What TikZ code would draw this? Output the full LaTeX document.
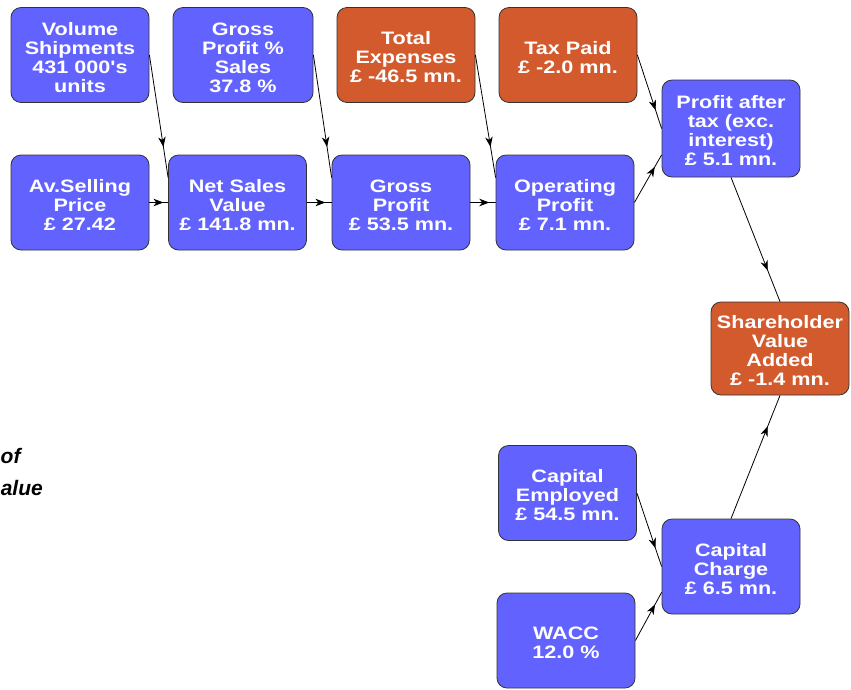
\documentclass[tikz,border=0pt]{standalone}
\usepackage{fontspec}
\newfontfamily\boxfont{Liberation Sans}[FakeStretch=1.2]
\newfontfamily\titlefont{Liberation Sans}
\usetikzlibrary{arrows.meta,decorations.markings,calc}
\definecolor{boxblue}{RGB}{98,98,255}
\definecolor{boxorange}{RGB}{210,90,45}
\newcommand\tstrut{\rule{0pt}{17.5pt}}
\tikzset{
  box/.style={draw=black!80, line width=0.8pt, rounded corners=10pt,
    minimum width=138pt, minimum height=95pt, inner sep=0pt, align=center,
    text=white, font=\boxfont\bfseries\fontsize{18}{19}\selectfont},
  bluebox/.style={box, fill=boxblue},
  orangebox/.style={box, fill=boxorange},
  midconn/.style={line width=0.8pt, postaction={decorate},
    decoration={markings, mark=at position 0.75 with {\arrow{Stealth[length=10pt,width=7.5pt,inset=3pt]}}}},
  sidetext/.style={inner sep=0pt, font=\titlefont\bfseries\itshape\fontsize{21}{32}\selectfont}
}
\begin{document}
\begin{tikzpicture}[x=1pt,y=-1pt]
\useasboundingbox (0,0) rectangle (851,689);
% top row
\node[bluebox] (vs) at (80,55) {\tstrut Volume\\Shipments\\431 000's\\units};
\node[bluebox, minimum width=140pt] (gps) at (243,55) {\tstrut Gross\\Profit \%\\Sales\\37.8 \%};
\node[orangebox] (te) at (406,55) {\tstrut Total\\Expenses\\\pounds{} -46.5 mn.};
\node[orangebox] (tp) at (568,55) {\tstrut Tax Paid\\\pounds{} -2.0 mn.};
% second row
\node[bluebox] (asp) at (80,202.5) {\tstrut Av.Selling\\Price\\\pounds{} 27.42};
\node[bluebox] (nsv) at (237.5,202.5) {\tstrut Net Sales\\Value\\\pounds{} 141.8 mn.};
\node[bluebox] (gp) at (401,202.5) {\tstrut Gross\\Profit\\\pounds{} 53.5 mn.};
\node[bluebox] (op) at (565,202.5) {\tstrut Operating\\Profit\\\pounds{} 7.1 mn.};
% right
\node[bluebox, minimum height=97pt] (pat) at (731,128.5) {\tstrut Profit after\\tax (exc.\\interest)\\\pounds{} 5.1 mn.};
\node[orangebox, minimum height=93pt] (sva) at (780,348.5) {\tstrut Shareholder\\Value\\Added\\\pounds{} -1.4 mn.};
% bottom
\node[bluebox] (ce) at (567.5,493) {\tstrut Capital\\Employed\\\pounds{} 54.5 mn.};
\node[bluebox] (cc) at (731,566.5) {\tstrut Capital\\Charge\\\pounds{} 6.5 mn.};
\node[bluebox] (wacc) at (566,640.5) {\tstrut WACC\\12.0 \%};
% side text
\node[sidetext, anchor=base west] (t1) at (0.5,463) {of};
\node[sidetext, anchor=base east] (t2) at (43,495) {alue};
% connectors
\draw[midconn] (vs.east) -- ($(nsv.north west)!0.24!(nsv.south west)$);
\draw[midconn] (gps.east) -- ($(gp.north west)!0.24!(gp.south west)$);
\draw[midconn] (te.east) -- ($(op.north west)!0.24!(op.south west)$);
\draw[midconn] (asp.east) -- (nsv.west);
\draw[midconn] (nsv.east) -- (gp.west);
\draw[midconn] (gp.east) -- (op.west);
\draw[midconn] (tp.east) -- (pat.west);
\draw[midconn] (op.east) -- ($(pat.north west)!0.77!(pat.south west)$);
\draw[midconn] (pat.south) -- (sva.north);
\draw[midconn] (ce.east) -- (cc.west);
\draw[midconn] (wacc.east) -- ($(cc.north west)!0.77!(cc.south west)$);
\draw[midconn] (cc.north) -- (sva.south);
\end{tikzpicture}
\end{document}
